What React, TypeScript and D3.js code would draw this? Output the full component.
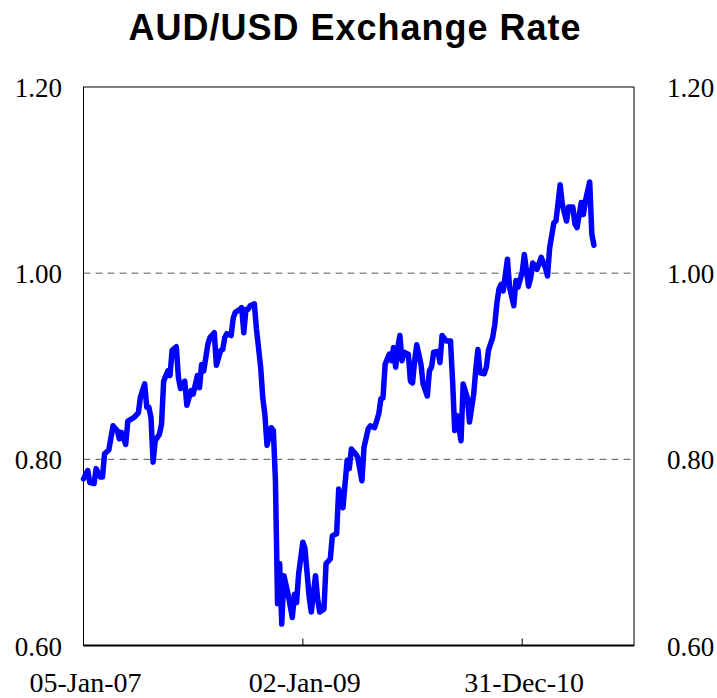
import { useEffect, useRef } from 'react';
import * as d3 from 'd3';

// weeks since 05-Jan-07 (weekly Friday data)
const weekOffsets = [
  0, 2, 3, 5, 6, 8, 9, 10, 12, 14, 16, 17, 18, 20, 21, 24, 26, 27, 29, 30,
  31, 32, 33, 34, 36, 37, 38, 40, 41, 42, 44, 45, 46, 48, 49, 51, 52, 54, 55, 56,
  57, 59, 60, 62, 63, 65, 66, 67, 68, 70, 71, 72, 74, 75, 76, 77, 78, 79, 81, 82,
  84, 85, 86, 87, 89, 90, 91, 92, 93, 94, 95, 97, 99, 100, 101, 102, 104, 105, 107, 108,
  110, 111, 112, 114, 115, 117, 118, 120, 121, 123, 125, 126, 127, 129, 130, 132, 133, 135, 136, 138,
  140, 141, 142, 143, 145, 146, 147, 148, 149, 150, 151, 152, 154, 155, 156, 157, 158, 160, 161, 163,
  164, 165, 166, 168, 169, 170, 172, 174, 175, 176, 177, 179, 180, 182, 183, 185, 186, 187, 188, 190,
  191, 192, 194, 195, 196, 197, 198, 199, 201, 202, 204, 205, 206, 208, 209, 211, 212, 213, 215, 217,
  219, 220, 221, 223, 224, 226, 227, 229, 230, 232, 233, 234, 236, 237, 238, 240, 241, 242,
];

// AUD/USD rate
const rates = [
  0.779, 0.788, 0.775, 0.774, 0.790, 0.781, 0.781, 0.806, 0.810, 0.836, 0.831, 0.822, 0.829, 0.816, 0.841, 0.845, 0.850, 0.867, 0.881, 0.856,
  0.856, 0.845, 0.797, 0.820, 0.827, 0.838, 0.884, 0.895, 0.890, 0.917, 0.921, 0.888, 0.876, 0.884, 0.858, 0.874, 0.870, 0.890, 0.877, 0.902,
  0.895, 0.924, 0.931, 0.936, 0.901, 0.917, 0.918, 0.931, 0.935, 0.933, 0.952, 0.958, 0.961, 0.963, 0.936, 0.961, 0.961, 0.965, 0.967, 0.940,
  0.899, 0.866, 0.848, 0.815, 0.834, 0.831, 0.777, 0.645, 0.688, 0.623, 0.675, 0.655, 0.630, 0.655, 0.646, 0.677, 0.711, 0.704, 0.652, 0.636,
  0.675, 0.650, 0.636, 0.639, 0.688, 0.693, 0.718, 0.720, 0.768, 0.748, 0.799, 0.790, 0.811, 0.806, 0.802, 0.777, 0.813, 0.833, 0.836, 0.834,
  0.849, 0.865, 0.866, 0.902, 0.913, 0.906, 0.920, 0.899, 0.920, 0.933, 0.906, 0.915, 0.913, 0.884, 0.882, 0.906, 0.923, 0.902, 0.881, 0.868,
  0.895, 0.899, 0.915, 0.916, 0.904, 0.933, 0.927, 0.927, 0.884, 0.831, 0.847, 0.820, 0.881, 0.866, 0.840, 0.870, 0.897, 0.918, 0.893, 0.892,
  0.899, 0.917, 0.931, 0.945, 0.968, 0.983, 0.988, 0.981, 1.015, 0.985, 0.965, 0.992, 0.985, 1.001, 1.020, 0.986, 0.995, 1.011, 1.004, 1.017,
  1.006, 0.997, 1.027, 1.054, 1.056, 1.095, 1.074, 1.056, 1.071, 1.071, 1.053, 1.049, 1.076, 1.063, 1.078, 1.098, 1.042, 1.030,
];

const yTicks = [0.6, 0.8, 1.0, 1.2];
const gridValues = [0.8, 1.0];
const xTickDates = ['2007-01-05', '2009-01-02', '2010-12-31'];
const xTickLabels = ['05-Jan-07', '02-Jan-09', '31-Dec-10'];

const startDate = new Date(2007, 0, 5);

export default function App() {
  const svgRef = useRef<SVGSVGElement>(null);
  const width = 717;
  const height = 698;
  const plot = { left: 83.5, right: 634, top: 87, bottom: 645.5 };

  useEffect(() => {
    document.body.style.margin = '0';
    if (!svgRef.current) return;
    const svg = d3.select(svgRef.current);
    svg.selectAll('*').remove();

    const data = weekOffsets.map((w, i) => ({
      date: d3.timeDay.offset(startDate, w * 7),
      value: rates[i],
    }));

    const x = d3.scaleTime()
      .domain([startDate, d3.timeDay.offset(startDate, 261 * 7)])
      .range([plot.left, plot.right]);

    const y = d3.scaleLinear()
      .domain([0.6, 1.2])
      .range([plot.bottom, plot.top]);

    const parse = d3.timeParse('%Y-%m-%d');
    const tickDates = xTickDates.map(d => parse(d) as Date);

    // Title
    svg.append('text')
      .attr('x', 355)
      .attr('y', 40)
      .attr('text-anchor', 'middle')
      .style('font-family', '"Liberation Sans", Arial, sans-serif')
      .style('font-weight', 'bold')
      .style('font-size', '36px')
      .style('letter-spacing', '1px')
      .style('fill', '#000')
      .text('AUD/USD Exchange Rate');

    // Grid lines
    svg.append('g')
      .selectAll('line')
      .data(gridValues)
      .join('line')
      .attr('x1', plot.left)
      .attr('x2', plot.right)
      .attr('y1', d => y(d))
      .attr('y2', d => y(d))
      .attr('stroke', '#555')
      .attr('stroke-width', 1)
      .attr('stroke-dasharray', '7,5');

    // Frame
    svg.append('rect')
      .attr('x', plot.left)
      .attr('y', plot.top)
      .attr('width', plot.right - plot.left)
      .attr('height', plot.bottom - plot.top)
      .attr('fill', 'none')
      .attr('stroke', '#000')
      .attr('stroke-width', 1);

    // Bottom axis
    svg.append('line')
      .attr('x1', plot.left)
      .attr('x2', plot.right)
      .attr('y1', plot.bottom)
      .attr('y2', plot.bottom)
      .attr('stroke', '#000')
      .attr('stroke-width', 2);

    svg.append('g')
      .selectAll('line')
      .data(tickDates.slice(1))
      .join('line')
      .attr('x1', d => x(d))
      .attr('x2', d => x(d))
      .attr('y1', plot.bottom)
      .attr('y2', plot.bottom - 7)
      .attr('stroke', '#000')
      .attr('stroke-width', 1);

    svg.append('g')
      .selectAll('text')
      .data(tickDates)
      .join('text')
      .attr('x', d => x(d) + 2)
      .attr('y', 692)
      .attr('text-anchor', 'middle')
      .style('font-family', '"Liberation Serif", "Times New Roman", serif')
      .style('font-size', '28px')
      .style('fill', '#000')
      .text((_, i) => xTickLabels[i]);

    // Y labels, left and right
    const fmt = d3.format('.2f');
    svg.append('g')
      .selectAll('text')
      .data(yTicks)
      .join('text')
      .attr('x', 62)
      .attr('y', d => y(d) + 10)
      .attr('text-anchor', 'end')
      .style('font-family', '"Liberation Serif", "Times New Roman", serif')
      .style('font-size', '27px')
      .style('fill', '#000')
      .text(d => fmt(d));

    svg.append('g')
      .selectAll('text')
      .data(yTicks)
      .join('text')
      .attr('x', 667)
      .attr('y', d => y(d) + 10)
      .attr('text-anchor', 'start')
      .style('font-family', '"Liberation Serif", "Times New Roman", serif')
      .style('font-size', '27px')
      .style('fill', '#000')
      .text(d => fmt(d));

    // Rate line
    const line = d3.line<{ date: Date; value: number }>()
      .x(d => x(d.date))
      .y(d => y(d.value));

    svg.append('path')
      .datum(data)
      .attr('fill', 'none')
      .attr('stroke', '#0000FF')
      .attr('stroke-width', 5.5)
      .attr('stroke-linejoin', 'round')
      .attr('stroke-linecap', 'round')
      .attr('d', line);
  }, []);

  return (
    <svg
      ref={svgRef}
      width={width}
      height={height}
      viewBox={`0 0 ${width} ${height}`}
      style={{ display: 'block', background: '#fff' }}
    />
  );
}
